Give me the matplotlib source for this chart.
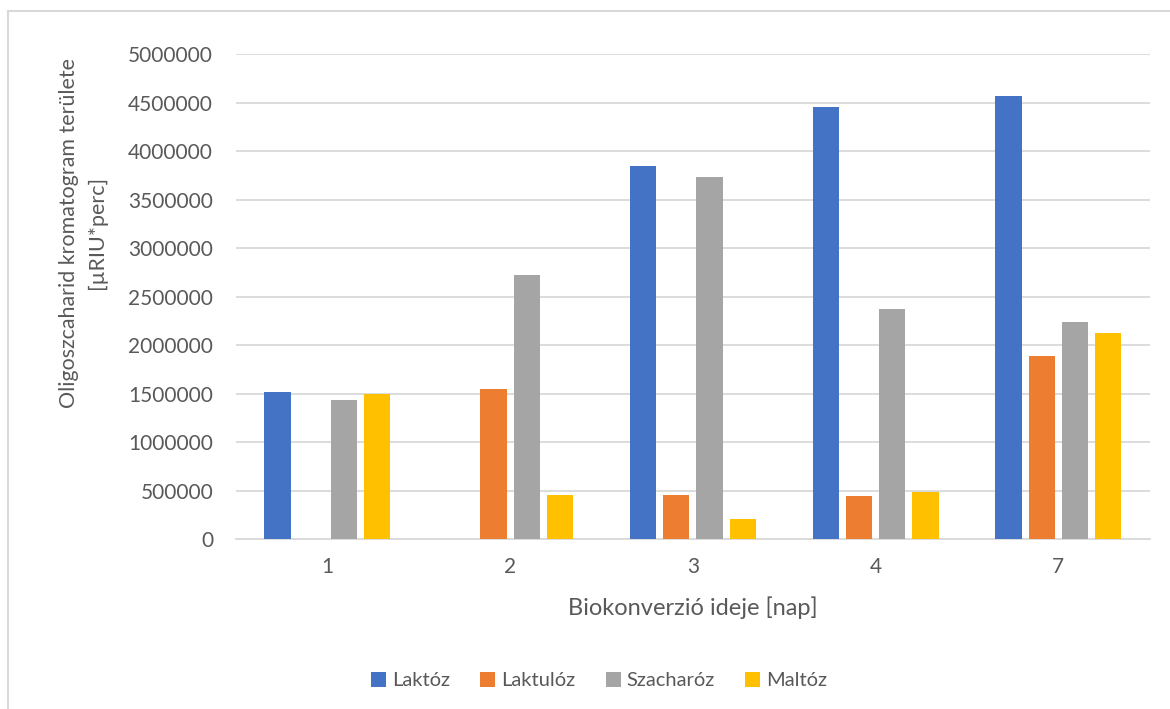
import numpy as np
import matplotlib.pyplot as plt
from matplotlib.lines import Line2D

# =======================
# DATA
# =======================
days = ["1", "2", "3", "4", "7"]
laktoz = [1520000, 0, 3850000, 4450000, 4570000]
laktuloz = [0, 1550000, 460000, 450000, 1885000]
szacharoz = [1435000, 2720000, 3730000, 2375000, 2243000]
maltoz = [1495000, 457000, 210000, 490000, 2122000]

series = [
    ("Laktóz", laktoz, "#4472C4"),
    ("Laktulóz", laktuloz, "#ED7D31"),
    ("Szacharóz", szacharoz, "#A5A5A5"),
    ("Maltóz", maltoz, "#FFC000"),
]

TEXT = "#595959"
GRID = "#d9d9d9"
plt.rcParams['font.family'] = ['Lato', 'DejaVu Sans']

# =======================
# PLOT
# =======================
fig = plt.figure(figsize=(11.7, 7.09), dpi=100)
ax = fig.add_axes([0.2017, 0.2394, 0.781, 0.6844])

x = np.arange(len(days))
step = 0.182
width = 0.144
for i, (name, vals, col) in enumerate(series):
    ax.bar(x + (i - 1.5) * step, vals, width, color=col, label=name, zorder=3)

ax.set_xlim(-0.5, len(days) - 0.5)
ax.set_ylim(0, 5000000)
ax.set_yticks(np.arange(0, 5000001, 500000))
ax.set_yticklabels([str(v) for v in range(0, 5000001, 500000)])
ax.set_xticks(x)
ax.set_xticklabels(days)
ax.tick_params(axis='both', length=0, labelsize=15, colors=TEXT)
ax.tick_params(axis='y', pad=16.5)
ax.tick_params(axis='x', pad=13)

ax.grid(axis='y', color=GRID, linewidth=1.3, zorder=0)
for s in ['top', 'right', 'left']:
    ax.spines[s].set_visible(False)
ax.spines['bottom'].set_color(GRID)
ax.spines['bottom'].set_linewidth(1.3)

ax.set_xlabel("Biokonverzió ideje [nap]", fontsize=17, color=TEXT, labelpad=14)
fig.text(0.071, 0.672, "Oligoszcaharid kromatogram területe\n[µRIU*perc]",
         rotation=90, ha='center', va='center', fontsize=15.4, color=TEXT,
         linespacing=1.45)

leg = fig.legend(loc='center', bbox_to_anchor=(0.512, 0.04), ncol=4, frameon=False,
                 fontsize=14.5, handlelength=0.75, handleheight=0.75,
                 handletextpad=0.3, columnspacing=1.5)
for t in leg.get_texts():
    t.set_color(TEXT)

# chart border (cropped on right/bottom)
fig.add_artist(Line2D([8 / 1170, 1.0], [1 - 11 / 709] * 2, color=GRID, lw=1.5,
                      transform=fig.transFigure))
fig.add_artist(Line2D([8 / 1170] * 2, [0, 1 - 11 / 709], color=GRID, lw=1.5,
                      transform=fig.transFigure))

fig.savefig("out.png", dpi=100)
